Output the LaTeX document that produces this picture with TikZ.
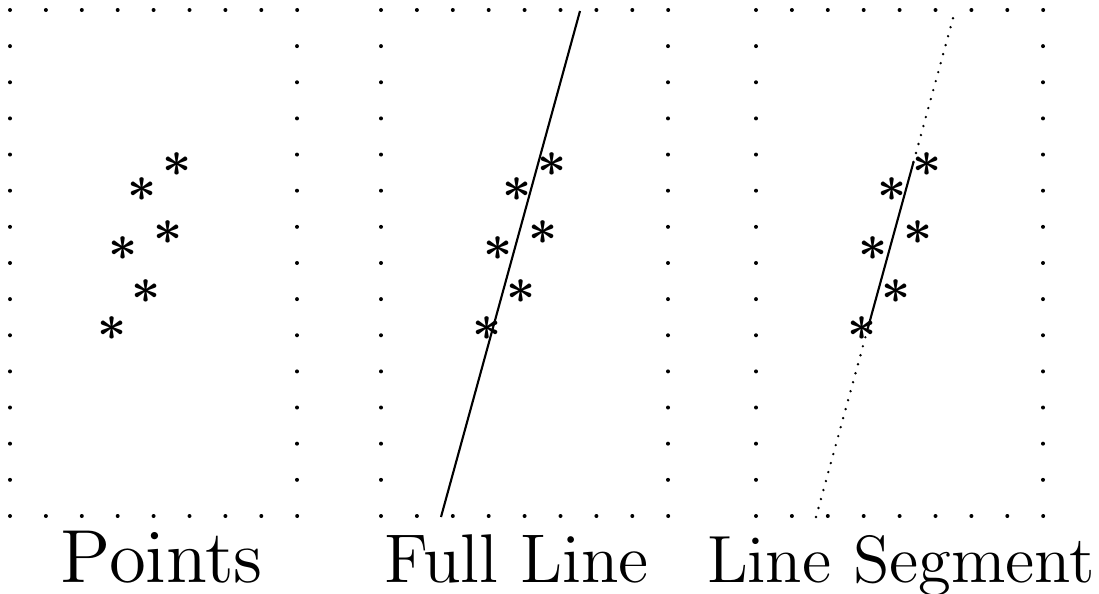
\documentclass[tikz,border=0pt]{standalone}
\usepackage{tikz}
\usetikzlibrary{calc}
\font\titlefontA=cmr12 at 21.4pt
\font\titlefontB=cmr12 at 19.6pt
\font\titlefontC=cmr12 at 19pt
\tikzset{
  gdot/.style={fill=black},
  fitline/.style={line width=0.6pt},
  extline/.style={line width=0.75pt, line cap=round, dash pattern=on 0pt off 2.65pt},
  obs/.style={inner sep=0pt, font=\fontsize{15}{18}\selectfont\boldmath},
  paneltitle/.style={anchor=base, inner sep=0pt}
}

\begin{document}
\begin{tikzpicture}[x=0.01cm, y=-0.01cm]
\useasboundingbox (0,0) rectangle (1099,594);
% dotted frames of the three panels
\foreach \bl in {10,381,756}{
  \foreach \i in {0,...,8}{
    \fill[gdot] (\bl+\i*35.9,10) circle (2);
    \fill[gdot] (\bl+\i*35.9,516) circle (2);
  }
  \foreach \j in {1,...,13}{
    \fill[gdot] (\bl,10+\j*36.14) circle (2);
    \fill[gdot] (\bl+287,10+\j*36.14) circle (2);
  }
}
% the same six points in every panel
\foreach \ox/\tag in {0/a,375/b,750/c}{
  \foreach \x/\y [count=\k] in {177/165,142/190,168/233,123/249,146/292,112/329}
    \node[obs] (\tag\k) at (\x+\ox,\y) {$\ast$};
}
% full line
\coordinate (blo) at (441,517);
\coordinate (bhi) at (580,11);
\draw[fitline] (blo) -- (bhi);
% segment, with the rest of the line dotted
\coordinate (clo) at (816,517);
\coordinate (chi) at (955,11);
\coordinate (cs1) at ($(clo)!0.3735!(chi)$);
\coordinate (cs2) at ($(clo)!0.7016!(chi)$);
\draw[fitline] (cs1) -- (cs2);
\draw[extline] (clo) -- (cs1);
\draw[extline] (cs2) -- (chi);
% captions
\node[paneltitle, font=\titlefontA] (capa) at (162,582) {Points};
\node[paneltitle, font=\titlefontB] (capb) at (517,582) {Full Line};
\node[paneltitle, font=\titlefontC] (capc) at (901,582) {Line Segment};
\end{tikzpicture}
\end{document}
